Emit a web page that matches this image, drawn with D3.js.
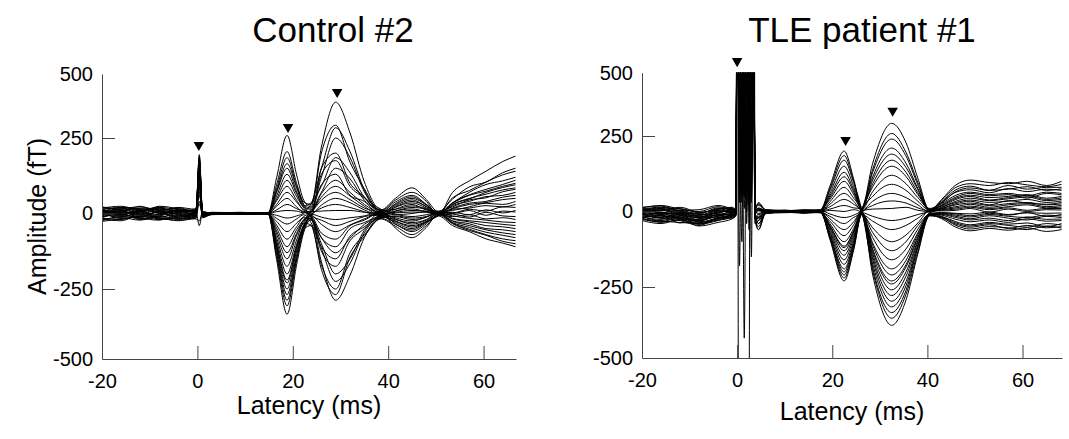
<!DOCTYPE html>
<html>
<head>
<meta charset="utf-8">
<script src="https://cdn.jsdelivr.net/npm/d3@7"></script>
<style>
  body { margin: 0; background: #fff; }
  svg text { font-family: "Liberation Sans", Arial, sans-serif; fill: #000; }
</style>
</head>
<body>
<div id="figure"></div>
<script>
// latency knots (ms) and per-channel amplitudes (fT)
const CONTROL_LATENCIES = [-20, -16, -12, -8, -4, -0.3, 0.4, 1.1, 3, 9, 14.8, 16.6, 18.8, 20.8, 22.3, 23.8, 26, 29, 32, 35, 38.5, 41.5, 45, 48, 50.5, 53.5, 57, 60.5, 64, 66.7]
const CONTROL_CHANNELS = [
  [8, -5, 12, 3, -9, 2, 195, -6, 3, -2, 1, 118, 260, 128, 44, 22, 200, 300, 170, 82, 6, 38, 60, 30, -4, 70, 108, 140, 172, 190],
  [-12, 6, -3, 14, 4, -6, 190, -10, -2, 3, -1, 95, 205, 100, 38, 30, 220, 390, 270, 105, 12, 50, 85, 46, 6, 48, 88, 104, 135, 150],
  [15, 20, 9, -4, 11, 5, 180, -4, 2, -3, 2, 82, 185, 90, 30, -10, 150, 200, 100, 55, -4, 22, 40, 24, 2, 35, 70, 96, 108, 120],
  [-20, -14, -22, -10, -16, -8, 170, -14, -3, 1, -2, 74, 165, 85, 28, 18, 120, 250, 185, 72, 10, 44, 70, 40, -6, 30, 48, 70, 86, 95],
  [4, -8, 1, 18, 7, 10, 160, -2, 4, 2, 0, 70, 150, 72, 22, 14, 95, 130, 60, 40, -8, 14, 30, 12, 8, 22, 45, 52, 72, 80],
  [-6, 10, 16, 6, -2, -12, 150, -8, -1, -2, 1, 58, 130, 66, 26, 35, 150, 290, 205, 78, 2, 30, 50, 28, 0, 52, 76, 104, 128, 140],
  [22, 12, 2, -6, 20, 14, 185, 4, 2, 4, -1, 48, 110, 56, 18, -2, 28, 50, 36, 12, -6, 8, 20, 14, -4, 18, 34, 40, 54, 60],
  [-16, -20, -8, -14, -24, -4, 140, -6, -4, 0, 2, 42, 90, 44, 12, 6, 130, 175, 90, 52, 14, -2, -10, -4, 4, 10, 22, 34, 30, 40],
  [2, 6, -12, 10, 16, 0, 120, 0, 1, -1, -2, 30, 70, 38, 10, -8, -22, -40, -26, -10, -2, 26, 45, 22, -2, 36, 62, 80, 96, 110],
  [10, -2, 6, -18, -8, 6, 100, -8, -2, 2, 0, 24, 50, 22, 4, 10, 70, 150, 115, 44, 8, -18, -30, -20, 4, 2, 14, 8, 22, 20],
  [-4, 14, 22, 8, -12, 8, 175, -4, 3, 0, 1, 12, 30, 16, 6, -10, -80, -110, -50, -30, -6, 4, 10, 8, -2, -10, -4, -18, -14, -20],
  [-24, -10, -16, -22, -6, -14, 90, -12, -2, 1, -1, 6, 10, 8, 2, 6, 66, 110, 70, 30, -4, -30, -50, -28, -8, 26, 40, 56, 60, 70],
  [12, 2, 8, 20, 12, -2, 130, 2, 1, -2, 0, -6, -15, -8, 2, 30, 90, 185, 135, 54, 10, 14, 25, 16, 2, 0, 10, -6, 8, 5],
  [-8, 16, 4, -12, 2, 12, 60, 6, 2, 1, 2, -16, -35, -18, -4, -30, -110, -150, -75, -44, -12, -10, -20, -12, 6, -16, -24, -30, -36, -40],
  [6, -16, -10, 4, -20, 4, 165, -6, -3, 2, -1, -26, -60, -32, -10, 4, 54, 90, 58, 24, -8, 20, 35, 18, -4, 14, 18, 26, 22, 30],
  [18, 24, 12, 16, 8, 16, 110, -2, 0, -1, 1, -38, -85, -44, -14, -18, -100, -200, -150, -56, -16, -36, -60, -34, 2, -24, -34, -50, -54, -60],
  [-14, 0, -20, -2, 10, -10, 80, -4, -1, 2, 0, -48, -110, -54, -20, 2, 44, 70, 46, 18, 4, -4, 0, 6, -6, -2, -12, 4, -8, -10],
  [0, 8, 18, 12, -4, -6, 150, -8, 2, 0, -2, -58, -130, -66, -22, -10, -65, -85, -40, -22, 4, -24, -40, -26, 0, -30, -46, -62, -72, -80],
  [20, 10, -6, 24, 16, 6, -40, 4, 2, -1, 1, -68, -150, -72, -26, -4, 18, 30, 20, 6, -10, 8, 15, 6, 0, 16, 30, 36, 46, 50],
  [-18, -24, -4, -16, -22, -16, 40, -10, -3, -2, 0, -80, -175, -88, -32, -38, -170, -250, -130, -70, -18, -42, -70, -40, -4, -34, -56, -72, -92, -100],
  [8, 18, -2, 6, 20, 2, 125, 2, 0, 2, -1, -90, -200, -102, -36, 6, 8, 10, 10, 4, 0, -14, -25, -12, 2, -8, -16, -22, -28, -30],
  [-2, -12, 6, 22, -14, -18, -25, 6, 1, 0, 2, -100, -220, -110, -40, -16, -80, -130, -82, -36, -6, 32, 55, 30, 4, 4, -4, 12, 2, 10],
  [14, 4, 24, 0, 6, 10, 70, -6, -2, 1, 0, -112, -250, -124, -44, -22, -115, -225, -165, -64, -10, -26, -45, -28, -8, -40, -60, -84, -98, -110],
  [-10, -4, -14, 8, 0, -2, 145, -10, -1, -2, 1, -120, -270, -136, -50, -2, -12, -20, -14, -8, 6, -48, -80, -46, -2, -26, -40, -54, -64, -70],
  [-26, -18, -10, -20, -12, -4, 95, -4, 2, 0, -2, -130, -290, -146, -52, -40, -185, -270, -145, -76, -14, -8, -15, -10, 2, -18, -28, -40, -44, -50],
  [4, 12, -18, -8, 4, 8, 30, 0, 0, 2, 0, -140, -310, -154, -56, -6, -36, -60, -38, -18, 2, -34, -55, -30, -6, 30, 50, 64, 78, 85],
  [16, -6, 10, -14, -18, 14, 155, -6, -3, 0, 1, -152, -340, -170, -62, -20, -160, -290, -205, -80, -12, -20, -35, -22, 0, -32, -52, -70, -84, -90],
  [-10, 20, 14, -20, 14, -8, 175, -2, 1, -1, -1, -104, -230, -114, -42, -14, -125, -175, -90, -50, 8, 2, 5, 4, -2, 34, 60, 74, 90, 100]
]
const CONTROL_MARKERS = [[0.3, 227], [19, 293], [29.3, 430]]

const TLE_LATENCIES = [-20, -16, -12, -8, -4, -1, -0.25, 0, 0.5, 1, 1.5, 2, 2.5, 3, 3.5, 3.75, 4.5, 6, 10, 14, 17.5, 19.5, 22.5, 24.5, 26.2, 28.5, 32.5, 35.5, 38, 40.5, 43, 46, 49, 53, 57, 61, 65, 68.2]
const TLE_CHANNELS = [
  [-5, 4, -12, -20, 2, -4, -2, 900, 650, 60, 800, 120, 700, 200, 950, 10, 5, 2, -3, 4, 6, 84, 200, 108, 8, 140, 260, 196, 96, 6, 36, 80, 92, 86, 96, 88, 82, 90],
  [-18, -26, -14, -34, -22, -10, -6, 1000, 100, 750, 150, 600, 40, 800, 900, -20, -50, -4, 2, -3, -2, 76, 185, 100, 4, -186, -340, -262, -120, -8, -16, -34, -44, -36, -42, -38, -50, -40],
  [8, 14, 2, -6, 10, 12, 4, 850, 700, 250, 900, 20, 650, 700, 1000, 14, 20, 6, 2, 6, 4, 70, 170, 96, 14, 160, 300, 228, 110, 2, 28, 64, 72, 62, 76, 66, 74, 70],
  [-12, -6, -24, -30, -8, -14, -8, 950, -180, 600, 300, 850, 100, 250, 900, -12, -30, 2, -2, 0, -4, 60, 150, 82, 0, -86, -160, -124, -58, -4, 10, 26, 34, 22, 36, 28, 24, 30],
  [4, -10, -4, -18, -2, 2, 2, 1100, 800, 150, 300, 750, 600, 30, 950, 8, 4, -2, 4, 2, 0, 52, 130, 72, 8, 104, 190, 146, 72, 0, 22, 48, 60, 52, 56, 44, 60, 55],
  [-26, -34, -20, -42, -30, -16, -10, 900, 200, 900, 650, 80, 700, 400, 1100, -30, -60, -6, -2, -4, 2, 46, 115, 64, -4, -140, -260, -200, -96, -12, -10, -20, -28, -22, -30, -18, -26, -25],
  [2, 8, -8, -14, 6, -2, 0, 1000, 600, 350, 50, 800, 150, 700, 400, 4, 10, 4, 0, -4, 4, 40, 100, 56, 6, 66, 120, 92, 46, 8, 18, 40, 50, 38, 46, 52, 40, 45],
  [-10, -22, -30, -46, -20, -12, -8, 1500, -3000, -3500, -3000, -3200, -900, 2500, 3000, 0, -40, -2, 2, -2, -2, 32, 80, 44, 2, -160, -300, -232, -110, -14, -20, -46, -58, -50, -54, -60, -48, -55],
  [6, -4, 4, -10, -6, 8, 4, 950, 300, 700, -430, 650, 200, 900, 850, 10, 30, 4, 2, 2, 0, 24, 60, 34, 4, 34, 60, 46, 22, -2, 8, 16, 24, 14, 22, 26, 16, 20],
  [-20, -14, -38, -24, -12, -20, -12, 1200, 500, -100, 700, 600, 200, 600, 950, -18, -10, -6, -4, -2, 2, 16, 40, 24, -2, -112, -210, -162, -76, -6, -4, -8, -14, -6, -12, -4, -16, -10],
  [12, 20, 8, 0, 16, 6, 6, 900, 750, 100, 200, 900, -60, 550, 1000, 20, 8, 4, 2, 4, 2, 8, 20, 12, 10, 130, 240, 184, 88, 4, 40, 88, 104, 96, 92, 100, 86, 100],
  [-4, -18, -10, -28, -16, -6, -4, 1000, 50, 800, 500, 300, 750, 100, 900, -6, 4, -2, 0, 2, -2, 4, 0, 6, -4, -54, -100, -78, -38, 2, 2, 4, 10, -2, 8, 0, 6, 5],
  [0, 6, -2, -8, 12, 4, 2, 850, 900, 450, 50, 600, 550, 150, 1000, 6, 2, 2, -2, 0, 4, -8, -20, -12, 6, 92, 170, 130, 62, 6, 32, 72, 84, 70, 86, 74, 80, 80],
  [-30, -40, -26, -48, -36, -24, -14, 1100, 300, 650, 700, 0, 800, 500, 950, -40, -30, -8, 2, -4, -2, -16, -40, -20, -8, -210, -385, -296, -140, -12, -24, -52, -64, -56, -62, -54, -66, -60],
  [10, 2, 14, -2, 4, 10, 6, 950, 350, 900, 100, 700, 300, 300, 1100, 16, 26, 6, 4, 2, 2, -24, -60, -34, 2, 8, 10, 14, 4, 0, 14, 34, 44, 36, 42, 48, 36, 40],
  [-16, -30, -18, -36, -26, -14, -6, 900, 650, 30, 700, 200, 600, 50, 900, -24, -20, -4, -2, 0, -4, -32, -80, -44, 0, -150, -280, -214, -102, -8, -12, -26, -34, -28, -36, -24, -32, -30],
  [4, 10, 0, -12, 2, -2, 2, 1050, 100, 600, 400, 900, 250, 600, 1000, 4, 12, 2, 2, 4, 2, -40, -100, -56, 4, 82, 150, 116, 56, 10, 30, 66, 78, 70, 74, 82, 70, 75],
  [-8, -22, -14, -32, -10, -8, -4, 950, 600, 200, 850, -40, 550, 750, 900, -10, -60, -4, -2, -4, 0, -46, -115, -64, -2, -130, -240, -184, -88, -10, -8, -16, -24, -14, -22, -28, -16, -20],
  [14, 18, 4, 6, 20, 8, 4, 1000, 800, 60, 600, 450, 350, 900, 1050, 12, 24, 4, 2, 2, 4, -52, -130, -72, 2, 114, 210, 160, 76, 6, 26, 54, 64, 56, 60, 52, 64, 60],
  [-22, -36, -28, -42, -24, -18, -10, 900, 150, 300, 800, 100, 400, 650, 950, -20, -16, -6, -2, -6, -2, -58, -145, -80, -10, -196, -360, -276, -132, -14, -18, -38, -48, -40, -46, -52, -40, -45],
  [0, -8, -4, -16, -12, 0, 0, 1150, 600, 700, 10, 500, 900, 80, 1000, 2, -6, 0, 0, 2, -2, -64, -160, -88, -6, 20, 35, 28, 12, 2, 6, 12, 18, 10, 16, 22, 12, 15],
  [-14, -20, -6, -22, -18, -22, -8, 1000, 450, 800, 250, 700, 20, 700, 900, -14, -24, -4, -2, -2, -2, -70, -175, -98, -4, -104, -190, -146, -70, -8, -6, -12, -18, -10, -16, -20, -12, -15],
  [6, 12, 10, -4, 8, 14, 6, 950, 700, 100, 650, 300, 850, 500, 250, 8, 10, 2, 4, 0, 4, -76, -190, -104, 0, 50, 90, 70, 34, 4, 20, 44, 54, 46, 50, 56, 44, 50],
  [-24, -32, -36, -40, -28, -20, -12, 1200, 30, 700, 600, 200, 650, -150, 950, -22, -20, -6, -2, -4, -4, -80, -200, -110, -8, -174, -320, -246, -116, -10, -20, -42, -52, -44, -56, -46, -54, -50],
  [2, -2, -10, -20, 0, 4, 2, 900, 550, 200, 900, 650, 100, 700, 1000, 4, -10, 2, 0, 2, 0, -84, -210, -116, -4, -16, -30, -22, -10, 0, 10, 22, 28, 20, 26, 30, 22, 25],
  [-6, -14, -22, -26, -4, -10, -6, 1000, 800, 650, 150, 600, 750, 450, 900, -8, -20, -2, 2, 0, -2, -88, -220, -122, -8, -70, -130, -100, -46, -4, 14, 30, 38, 30, 34, 40, 30, 35],
  [-12, -4, -18, -30, -14, -6, -2, 950, 250, 900, 700, 60, 300, 800, 1100, -4, 6, -2, 0, -2, 2, -92, -230, -128, -10, -32, -60, -46, -22, 2, 4, 8, 14, 6, 12, 4, 10, 10],
  [-20, -12, -26, -38, -20, -14, -6, 1050, 250, 500, 850, 150, 700, 100, 950, -12, -40, -4, 0, -2, 0, -48, -120, -66, -2, -124, -230, -176, -84, -8, -4, -6, -8, -2, -10, -4, -6, -5]
]
const TLE_MARKERS = [[0, 546], [22.8, 237], [32.7, 350]]

const X_TICKS = [-20, 0, 20, 40, 60]
const Y_TICKS = [-500, -250, 0, 250, 500]

const AXIS_COLOR = '#444'

const svg = d3.select('#figure').append('svg')
  .attr('width', 1069)
  .attr('height', 439)

const drawPanel = (panel) => {
  const x = d3.scaleLinear().domain(panel.xDomain).range(panel.xRange)
  // the figure's amplitude axis is not quite even between ticks, so map tick by tick
  const y = d3.scaleLinear().domain(Y_TICKS).range(panel.yRange)

  const left = panel.xRange[0], right = panel.xRange[1]
  const top = y(500), bottom = y(-500)

  svg.append('clipPath').attr('id', 'clip-' + panel.id)
    .append('rect')
    .attr('x', left).attr('y', top)
    .attr('width', right - left).attr('height', bottom - top)

  const line = d3.line()
    .x(d => x(d[0]))
    .y(d => y(d[1]))
    .curve(d3.curveMonotoneX)

  svg.append('g')
    .attr('clip-path', 'url(#clip-' + panel.id + ')')
    .selectAll('path')
    .data(panel.channels)
    .join('path')
    .attr('d', row => line(row.map((v, i) => [panel.latencies[i], v])))
    .attr('fill', 'none')
    .attr('stroke', '#000')
    .attr('stroke-width', 1)
    .attr('stroke-linejoin', 'round')

  // peak markers
  svg.append('g').selectAll('path')
    .data(panel.markers)
    .join('path')
    .attr('d', d3.symbol(d3.symbolTriangle, 48))
    .attr('transform', d => `translate(${x(d[0])},${y(d[1])}) rotate(180)`)
    .attr('fill', '#000')

  const yAxis = svg.append('g')
    .attr('transform', `translate(${left},0)`)
    .call(d3.axisLeft(y).tickValues(Y_TICKS).tickFormat(d => String(d))
      .tickSizeInner(-13).tickSizeOuter(0).tickPadding(9))
  yAxis.selectAll('.tick').filter(d => Math.abs(d) === 500).select('line').remove()

  const xAxis = svg.append('g')
    .attr('transform', `translate(0,${bottom})`)
    .call(d3.axisBottom(x).tickValues(X_TICKS).tickFormat(d => String(d))
      .tickSizeInner(-13).tickSizeOuter(0).tickPadding(15))
  xAxis.selectAll('.tick').filter(d => d === -20).select('line').remove()

  for (const g of [xAxis, yAxis]) {
    g.attr('font-size', null).attr('font-family', null)
    g.select('.domain').attr('stroke', AXIS_COLOR)
    g.selectAll('.tick line').attr('stroke', AXIS_COLOR)
    g.selectAll('.tick text').style('font-size', '20px').attr('fill', '#000')
  }

  svg.append('text')
    .attr('x', panel.titleX).attr('y', 42)
    .attr('text-anchor', 'middle')
    .style('font-size', '35px')
    .text(panel.title)

  svg.append('text')
    .attr('x', (left + right) / 2).attr('y', panel.xLabelY)
    .attr('text-anchor', 'middle')
    .style('font-size', '25px')
    .text('Latency (ms)')

  if (panel.yLabel) {
    svg.append('text')
      .attr('transform', `translate(46,${(top + bottom) / 2}) rotate(-90)`)
      .attr('text-anchor', 'middle')
      .style('font-size', '25px')
      .text('Amplitude (fT)')
  }
}

drawPanel({
  id: 'control', title: 'Control #2', titleX: 333,
  latencies: CONTROL_LATENCIES, channels: CONTROL_CHANNELS, markers: CONTROL_MARKERS,
  xDomain: [-20, 66.8], xRange: [102, 516],
  yRange: [359, 289, 213.5, 138, 74],
  xLabelY: 414, yLabel: true
})

drawPanel({
  id: 'tle', title: 'TLE patient #1', titleX: 862,
  latencies: TLE_LATENCIES, channels: TLE_CHANNELS, markers: TLE_MARKERS,
  xDomain: [-20, 68.3], xRange: [642, 1062],
  yRange: [358, 287, 211.5, 136, 72.7],
  xLabelY: 420, yLabel: false
})
</script>
</body>
</html>
